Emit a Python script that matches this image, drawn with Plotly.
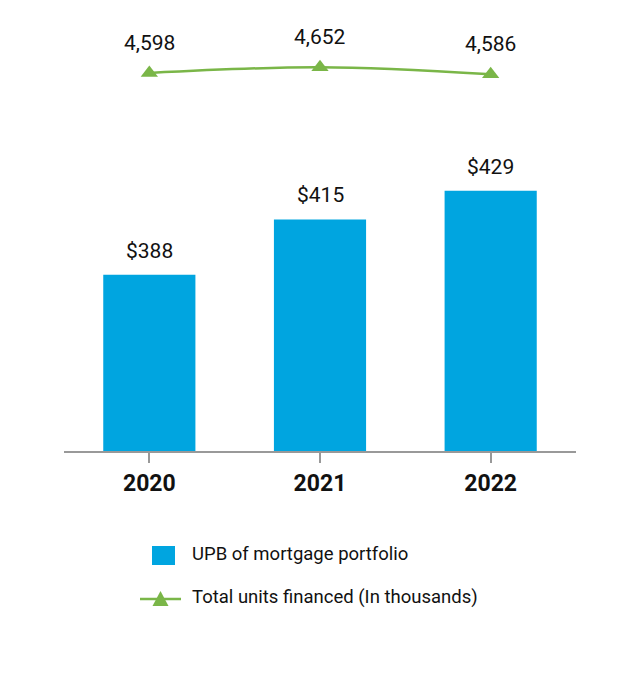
import plotly.graph_objects as go

years = ["2020", "2021", "2022"]
upb = [388, 415, 429]
upb_labels = ["$388", "$415", "$429"]
units = [4598, 4652, 4586]
units_labels = ["4,598", "4,652", "4,586"]
legend_names = ["UPB of mortgage portfolio", "Total units financed (In thousands)"]

BLUE = "#00A5E0"
GREEN = "#7AB648"
FONT = "Roboto"

fig = go.Figure()
fig.add_trace(go.Bar(
    x=years, y=upb, name=legend_names[0],
    marker=dict(color=BLUE, line=dict(width=0)), width=0.54,
    yaxis="y", showlegend=False,
))
fig.add_trace(go.Scatter(
    x=years, y=units, name=legend_names[1],
    mode="lines+markers", yaxis="y2", showlegend=False,
    line=dict(color=GREEN, width=2.5, shape="spline"),
    marker=dict(symbol="triangle-up", size=15, color=GREEN),
))

annotations = []
# category index positions (0, 1, 2) so numeric-looking category names are not misread
for i, (v, t) in enumerate(zip(upb, upb_labels)):
    annotations.append(dict(x=i, y=v, xref="x", yref="y", text=t, showarrow=False,
                            yanchor="bottom", yshift=10,
                            font=dict(family=FONT, size=21, color="#111")))
for i, (v, t) in enumerate(zip(units, units_labels)):
    annotations.append(dict(x=i, y=v, xref="x", yref="y2", text=t, showarrow=False,
                            yanchor="bottom", yshift=16,
                            font=dict(family=FONT, size=21, color="#111")))

# manual legend (paper coordinates; plot area spans x 64..576 px, y 20..451 px)
def px_x(p):
    return (p - 64) / 512.0

def px_y(p):
    return (451 - p) / 431.0

shapes = [
    dict(type="rect", xref="paper", yref="paper",
         x0=px_x(152), x1=px_x(175), y0=px_y(565), y1=px_y(546),
         fillcolor=BLUE, line=dict(width=0)),
    dict(type="line", xref="paper", yref="paper",
         x0=px_x(140), x1=px_x(181), y0=px_y(599), y1=px_y(599),
         line=dict(color=GREEN, width=2.5)),
    dict(type="path", xref="paper", yref="paper",
         path="M {} {} L {} {} L {} {} Z".format(px_x(152.5), px_y(606), px_x(168.5), px_y(606),
                                                  px_x(160.5), px_y(591)),
         fillcolor=GREEN, line=dict(width=0)),
]
annotations.append(dict(x=px_x(190), y=px_y(554), xref="paper", yref="paper",
                        text=legend_names[0], showarrow=False, xanchor="left", yanchor="middle",
                        font=dict(family=FONT, size=18.5, color="#111")))
annotations.append(dict(x=px_x(190), y=px_y(597), xref="paper", yref="paper",
                        text=legend_names[1], showarrow=False, xanchor="left", yanchor="middle",
                        font=dict(family=FONT, size=18.5, color="#111")))

fig.update_layout(
    width=640, height=700,
    margin=dict(l=64, r=64, t=20, b=249),
    paper_bgcolor="white", plot_bgcolor="white",
    font=dict(family=FONT, color="#111"),
    xaxis=dict(type="category", showline=True, linecolor="#999", linewidth=2,
               ticks="outside", ticklen=10, tickwidth=2, tickcolor="#999",
               tickfont=dict(family=FONT, size=23, color="#111", weight="bold"),
               showgrid=False, zeroline=False, range=[-0.5, 2.5]),
    yaxis=dict(range=[302, 512.3], showticklabels=False, showline=False, ticks="",
               showgrid=False, zeroline=False),
    yaxis2=dict(range=[1028, 5098], overlaying="y", showticklabels=False, showline=False,
                ticks="", showgrid=False, zeroline=False),
    annotations=annotations,
    shapes=shapes,
    showlegend=False,
)

fig.write_html("out.html", config={"displayModeBar": False},
               post_script="document.body.style.margin='0px';")
